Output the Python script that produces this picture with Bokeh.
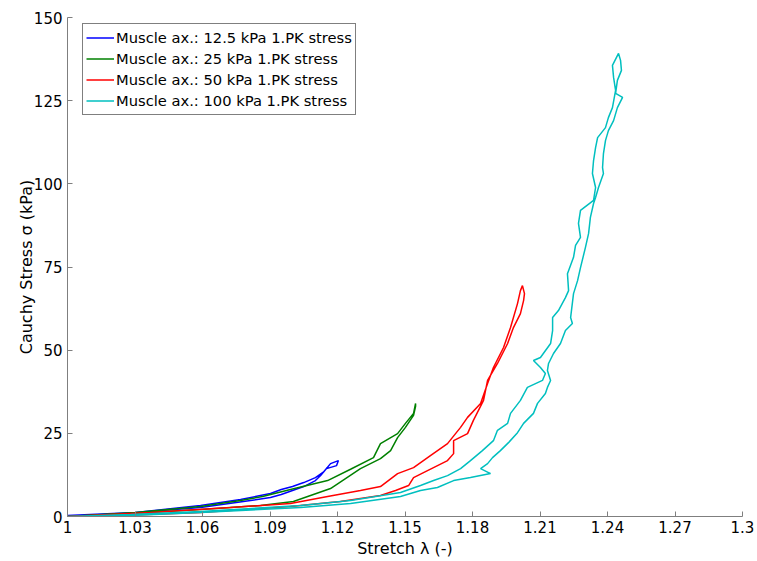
from bokeh.plotting import figure
from bokeh.models import FixedTicker, Legend, LegendItem
from bokeh.embed import file_html
from bokeh.resources import INLINE

# ---- data ----
blue_x = [1.0, 1.0302, 1.0591, 1.0769, 1.0902, 1.0950, 1.1000, 1.1050, 1.1102, 1.1140, 1.1169, 1.1204,
          1.1196, 1.1151, 1.1125, 1.1102, 1.1050, 1.1000, 1.0950, 1.0902, 1.0750, 1.0591, 1.0302, 1.0]
blue_y = [0.0, 1.2, 3.3, 5.1, 6.9, 8.1, 9.0, 10.2, 11.7, 13.5, 15.9, 16.8,
          15.3, 14.4, 12.3, 10.8, 9.0, 7.8, 6.6, 5.7, 4.2, 2.7, 1.2, 0.3]

green_x = [1.0, 1.0302, 1.0591, 1.0769, 1.0867, 1.0991, 1.1156, 1.1258, 1.1360, 1.1391, 1.1467, 1.1502,
           1.1538, 1.1547, 1.1547, 1.1538, 1.1502, 1.1467, 1.1436, 1.1391, 1.1302, 1.1169, 1.1004,
           1.0858, 1.0591, 1.0280, 1.0]
green_y = [0.0, 1.2, 3.0, 4.8, 6.0, 8.1, 10.8, 14.2, 17.7, 21.9, 24.9, 28.0,
           31.0, 34.0, 33.1, 30.4, 26.8, 23.7, 19.8, 17.4, 14.4, 8.4, 4.5,
           3.3, 2.1, 0.9, 0.0]

red_x = [1.0, 1.0369, 1.0724, 1.0991, 1.1156, 1.1302, 1.1391, 1.1467, 1.1538, 1.1613, 1.1689, 1.1747,
         1.1778, 1.1836, 1.1867, 1.1893, 1.1938, 1.1969, 1.2000, 1.2013, 1.2022,
         1.2031, 1.2027, 1.2013, 1.1982, 1.1956, 1.1911, 1.1867, 1.1849, 1.1804, 1.1778, 1.1716,
         1.1716, 1.1689, 1.1600, 1.1538, 1.1516, 1.1458, 1.1391, 1.1213, 1.0991, 1.0591, 1.0236, 1.0]
red_y = [0.0, 1.2, 2.7, 3.9, 6.0, 7.8, 9.0, 12.9, 14.7, 18.3, 21.9, 26.8,
         29.8, 34.0, 40.0, 44.8, 50.8, 56.8, 64.0, 67.9, 69.4,
         67.0, 64.9, 61.0, 56.8, 52.0, 46.0, 40.9, 34.9, 28.9, 24.9, 22.8,
         18.9, 16.8, 13.8, 11.7, 9.3, 7.8, 6.3, 4.5, 3.0, 1.2, 0.3, 0.0]

cyan_x = [1.0, 1.0280, 1.0591, 1.1036, 1.1258, 1.1480, 1.1569, 1.1644, 1.1716, 1.1791, 1.1880, 1.1836,
          1.1867, 1.1889, 1.1924, 1.1960, 1.2000, 1.2027, 1.2071, 1.2089, 1.2124, 1.2133, 1.2147,
          1.2133, 1.2138, 1.2160, 1.2191, 1.2213, 1.2244, 1.2236, 1.2249, 1.2267, 1.2280, 1.2302,
          1.2316, 1.2324, 1.2338, 1.2347, 1.2360, 1.2382, 1.2378, 1.2382, 1.2391, 1.2404, 1.2427,
          1.2444, 1.2467, 1.2436, 1.2444, 1.2462, 1.2458, 1.2449,
          1.2422, 1.2427, 1.2436, 1.2422, 1.2404, 1.2391, 1.2356, 1.2347, 1.2338, 1.2333, 1.2347,
          1.2338, 1.2280, 1.2271, 1.2280, 1.2258, 1.2249, 1.2222, 1.2227, 1.2213, 1.2182, 1.2156,
          1.2156, 1.2147, 1.2102, 1.2071, 1.2102, 1.2124, 1.2111, 1.2044, 1.2013, 1.1969, 1.1956,
          1.1911, 1.1893, 1.1844, 1.1791, 1.1747, 1.1689, 1.1627, 1.1569, 1.1480, 1.1258, 1.1036,
          1.0591, 1.0280, 1.0]
cyan_y = [0.0, 0.3, 1.2, 2.7, 3.9, 6.0, 7.8, 8.7, 10.8, 11.7, 12.9, 14.4,
          15.9, 17.7, 19.8, 22.2, 25.2, 28.0, 31.0, 34.0, 37.0, 38.8, 40.9,
          43.9, 46.0, 49.0, 52.0, 55.9, 58.0, 59.8, 67.0, 70.9, 74.8, 80.9,
          85.1, 89.9, 94.1, 95.9, 98.9, 103.1, 104.9, 109.1, 113.0, 116.0, 119.0,
          122.9, 126.0, 127.2, 131.1, 134.1, 137.1, 139.2,
          135.6, 132.0, 128.1, 122.9, 119.9, 116.9, 113.9, 110.9, 107.0, 103.1, 98.9,
          95.0, 92.0, 88.1, 83.9, 81.5, 77.9, 73.0, 67.9, 65.8, 61.9, 59.8,
          55.9, 52.0, 47.8, 46.9, 44.8, 43.0, 40.9, 38.8, 34.9, 31.0, 28.0,
          25.9, 22.8, 19.8, 16.8, 14.4, 12.3, 10.8, 9.3, 7.2, 4.8, 3.3,
          1.5, 0.6, 0.0]

series_labels = ["Muscle ax.: 12.5 kPa 1.PK stress", "Muscle ax.: 25 kPa 1.PK stress",
                 "Muscle ax.: 50 kPa 1.PK stress", "Muscle ax.: 100 kPa 1.PK stress"]
series_colors = ["#0000FF", "#008000", "#FF0000", "#00BFBF"]

x_ticks = [1.0, 1.03, 1.06, 1.09, 1.12, 1.15, 1.18, 1.21, 1.24, 1.27, 1.3]
x_tick_labels = ["1", "1.03", "1.06", "1.09", "1.12", "1.15", "1.18", "1.21", "1.24", "1.27", "1.3"]
y_ticks = [0, 25, 50, 75, 100, 125, 150]
y_tick_labels = ["0", "25", "50", "75", "100", "125", "150"]

FONT = "DejaVu Sans"

p = figure(width=757, height=561, output_backend="svg", toolbar_location=None,
           x_range=(1.0, 1.3), y_range=(0, 150),
           min_border_left=67, min_border_right=15, min_border_top=17, min_border_bottom=45)
p.outline_line_color = None
p.xgrid.visible = False
p.ygrid.visible = False
p.background_fill_color = "white"
p.border_fill_color = "white"

xs_all = [blue_x, green_x, red_x, cyan_x]
ys_all = [blue_y, green_y, red_y, cyan_y]
renderers = []
for xs, ys, c in zip(xs_all, ys_all, series_colors):
    r = p.line(xs, ys, line_color=c, line_width=1.5)
    renderers.append(r)

for ax, ticks, labels in ((p.xaxis[0], x_ticks, x_tick_labels), (p.yaxis[0], y_ticks, y_tick_labels)):
    ax.ticker = FixedTicker(ticks=ticks)
    ax.major_label_overrides = {t: l for t, l in zip(ticks, labels)}
    ax.major_tick_in = 5
    ax.major_tick_out = 0
    ax.minor_tick_in = 0
    ax.minor_tick_out = 0
    ax.axis_line_color = "#7f7f7f"
    ax.major_tick_line_color = "#7f7f7f"
    ax.major_label_text_font = FONT
    ax.major_label_text_font_size = "15px"
    ax.major_label_text_color = "#000000"
    ax.axis_label_text_font = FONT
    ax.axis_label_text_font_size = "16px"
    ax.axis_label_text_font_style = "normal"
    ax.axis_label_text_color = "#000000"

p.xaxis[0].axis_label = "Stretch λ (-)"
p.yaxis[0].axis_label = "Cauchy Stress σ (kPa)"
p.xaxis[0].major_label_standoff = 4
p.xaxis[0].axis_label_standoff = 3
p.yaxis[0].major_label_standoff = 5
p.yaxis[0].axis_label_standoff = -5

legend = Legend(items=[LegendItem(label=l, renderers=[r]) for l, r in zip(series_labels, renderers)],
                location=(15, 401))
legend.border_line_color = "#000000"
legend.border_line_width = 1
legend.label_text_font = FONT
legend.label_text_font_size = "14.7px"
legend.label_text_color = "#000000"
legend.glyph_width = 28
legend.glyph_height = 21
legend.label_height = 21
legend.label_standoff = 2
legend.spacing = 0
legend.padding = 3
legend.margin = 0
legend.background_fill_alpha = 1.0
p.add_layout(legend, "center")

open("out.html", "w").write(file_html(p, INLINE))
